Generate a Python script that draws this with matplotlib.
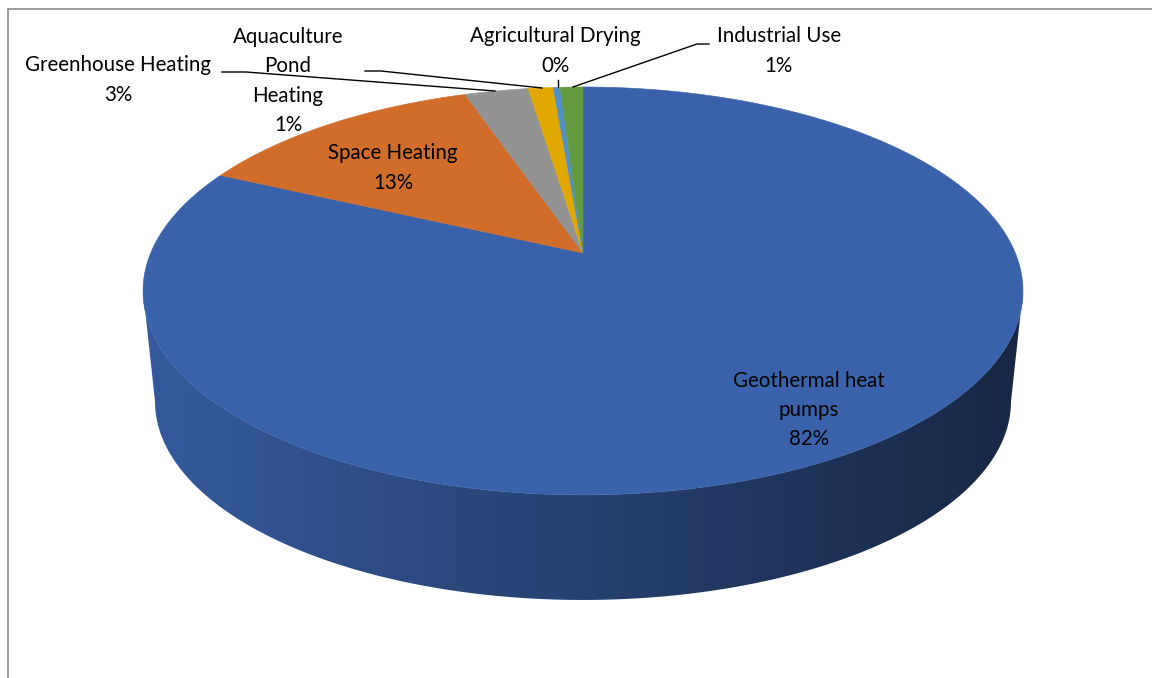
import numpy as np
import matplotlib
matplotlib.use("Agg")
import matplotlib.pyplot as plt
from matplotlib.patches import Polygon
from matplotlib.colors import to_rgb

# ---- data ----
categories = ["Geothermal heat pumps", "Space Heating", "Greenhouse Heating",
              "Aquaculture Pond Heating", "Agricultural Drying", "Industrial Use"]
values = [82.0, 12.8, 2.8, 1.1, 0.3, 1.0]
label_texts = ["Geothermal heat\npumps", "Space Heating", "Greenhouse Heating",
               "Aquaculture\nPond\nHeating", "Agricultural Drying", "Industrial Use"]
colors = ["#3A62AA", "#D06D2A", "#939393", "#E0A800", "#5090C8", "#639A3F"]

plt.rcParams['font.family'] = ['Lato', 'DejaVu Sans']

W, H = 1152, 678
fig = plt.figure(figsize=(W / 100, H / 100), dpi=100)
ax = fig.add_axes([0, 0, 1, 1])
ax.set_xlim(0, W)
ax.set_ylim(H, 0)
ax.axis('off')

# ---- projection of tilted disk (perspective) ----
CX, CY = 583.0, 253.0
K = 0.186
A_top, B_top = 432.3, 196.9
CY_bot, A_bot, B_bot = 364.7, 420.5, 191.5


def proj(theta, top=True):
    x = np.sin(theta)
    y = np.cos(theta)
    d = 1 + K * y
    if top:
        return CX + A_top * x / d, CY - B_top * y / d
    return CX + A_bot * x / d, CY_bot - B_bot * y / d


fracs = np.array(values) / np.sum(values)
bounds = np.concatenate([[0], np.cumsum(fracs)]) * 2 * np.pi

# ---- side wall (front half, silhouette from widest points) ----
t_right = np.arccos(-K)
t_left = 2 * np.pi - np.arccos(-K)
tt = np.linspace(t_right, t_left, 600)
top_arc = [proj(t) for t in tt]
bot_arc = [proj(t, False) for t in tt[::-1]]
side_poly = Polygon(top_arc + bot_arc, closed=True, facecolor='none',
                    edgecolor='none', transform=ax.transData)
ax.add_patch(side_poly)

base = np.array(to_rgb(colors[0]))
xs_img = np.linspace(130, 1040, 600)
fac = np.clip(0.92 - 0.52 * (xs_img - 144) / 879, 0.35, 0.95)
grad = (base[None, :] * fac[:, None])[None, :, :]
im = ax.imshow(grad, extent=(130, 1040, 620, 270), aspect='auto',
               interpolation='bilinear', zorder=1)
im.set_clip_path(side_poly)
ax.set_xlim(0, W)
ax.set_ylim(H, 0)

# ---- top face ----
for i in range(len(values)):
    a0, a1 = bounds[i], bounds[i + 1]
    m = max(int((a1 - a0) / (2 * np.pi) * 720), 2)
    th = np.linspace(a0, a1, m + 1)
    pts = [(CX, CY)] + [proj(t) for t in th]
    ax.add_patch(Polygon(pts, closed=True, facecolor=colors[i], edgecolor=colors[i],
                         linewidth=0.4, zorder=2))

# ---- labels ----
pcts = [f"{round(v)}%" for v in values]
label_pos = [(809, 410), (393, 168), (118, 80), (288, 81), (555, 51), (779, 51)]
for i in range(len(values)):
    ax.text(label_pos[i][0], label_pos[i][1], label_texts[i] + "\n" + pcts[i],
            ha='center', va='center', fontsize=14.8, color='black',
            linespacing=1.58, zorder=5)

# leader lines
leaders = [
    [(222, 72), (246, 72), (495, 91)],
    [(365, 71), (381, 71), (542, 88)],
    [(558, 80), (558, 87)],
    [(709, 44), (697, 44), (573, 87)],
]
for seg in leaders:
    xs, ys = zip(*seg)
    ax.plot(xs, ys, color='black', linewidth=1.0, zorder=4)

# ---- border ----
ax.plot([8, W], [9, 9], color='#8c8c8c', linewidth=1.2, zorder=6)
ax.plot([8, 8], [9, H], color='#8c8c8c', linewidth=1.2, zorder=6)

fig.savefig("out.png", dpi=100)
